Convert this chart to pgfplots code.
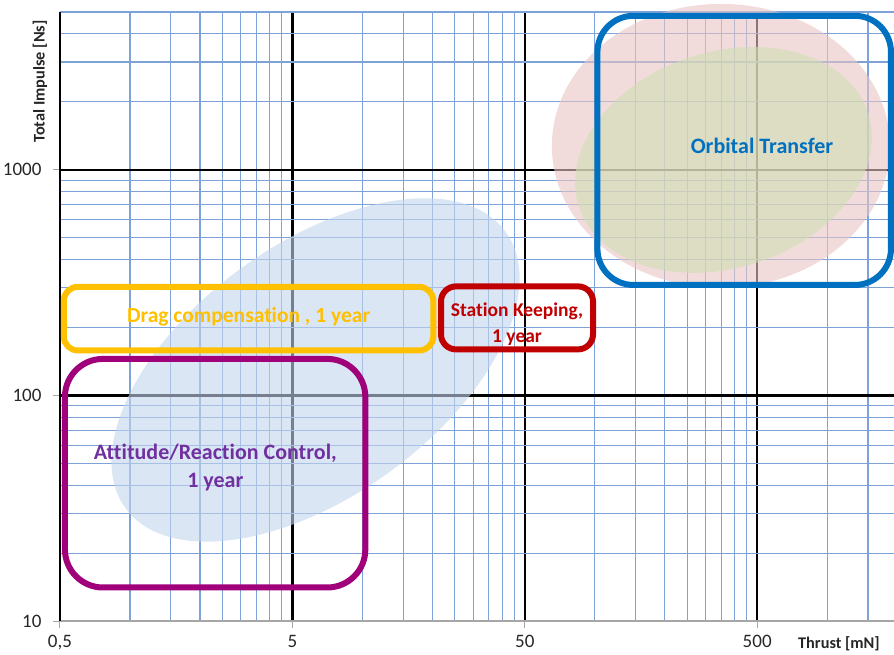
\documentclass[border=0pt]{standalone}
\usepackage{pgfplots}
\pgfplotsset{compat=1.18}
\usepackage{fontspec}
\setmainfont{Carlito}[Ligatures={NoCommon}]
\definecolor{gridblue}{RGB}{125,162,215}
\definecolor{pinkfill}{RGB}{233,197,195}
\definecolor{olivefill}{RGB}{208,221,180}
\definecolor{bluefill}{RGB}{195,213,238}
\definecolor{boxblue}{RGB}{0,112,192}
\definecolor{boxyellow}{RGB}{255,192,0}
\definecolor{boxred}{RGB}{192,0,0}
\definecolor{boxpurple}{RGB}{160,0,122}
\definecolor{textpurple}{RGB}{112,48,160}
\begin{document}
\begin{tikzpicture}
\begin{axis}[
  xmode=log, ymode=log,
  scale only axis, width=834pt, height=609.3pt,
  xmin=0.5, xmax=1940, ymin=10, ymax=5000,
  clip=false,
  axis x line*=bottom, axis y line*=left,
  x axis line style={-, draw=gray!70, line width=1.6pt},
  y axis line style={-, draw=black, line width=2.4pt},
  xtick={0.5,5,50,500}, xticklabels={{0,5},5,50,500},
  minor xtick={1,1.5,2,2.5,3,3.5,4,4.5,10,15,20,25,30,35,40,45,100,150,200,250,300,350,400,450,1000,1500},
  ytick={100,1000}, yticklabels={100,1000},
  extra y ticks={10}, extra y tick labels={10}, extra y tick style={grid=none},
  minor ytick={20,30,40,50,60,70,80,90,200,300,400,500,600,700,800,900,2000,3000,4000,5000},
  grid=both,
  major grid style={black, line width=2.4pt},
  minor grid style={gridblue, line width=1.2pt},
  tick align=outside, major tick length=7pt, minor tick length=0pt,
  tick style={gray!70, line width=1pt},
  ticklabel style={font=\fontsize{19}{21}\selectfont, text=black!85},
  xticklabel style={yshift=-6pt, inner sep=1pt},
  yticklabel style={xshift=-8pt},
]
\coordinate (SW) at (rel axis cs:0,0);
\coordinate (NE) at (rel axis cs:1,1);
% regions
\fill[pinkfill, fill opacity=0.6] (axis cs:349,1276) ellipse [x radius=169pt, y radius=142pt];
\fill[olivefill, fill opacity=0.6, rotate around={18:(axis cs:358,1106)}] (axis cs:358,1106) ellipse [x radius=152pt, y radius=108pt];
\fill[bluefill, fill opacity=0.6, rotate around={36:(axis cs:6.29,129.8)}] (axis cs:6.29,129.8) ellipse [x radius=235pt, y radius=126pt];
% boxes
\draw[boxblue, line width=6pt, rounded corners=36pt] (axis cs:102.7,309) rectangle (axis cs:1882,4808);
\draw[boxyellow, line width=6pt, rounded corners=14pt] (axis cs:0.519,158.4) rectangle (axis cs:20.2,302.9);
\draw[boxred, line width=6pt, rounded corners=15pt] (axis cs:21.8,160.1) rectangle (axis cs:98.3,304.4);
\draw[boxpurple, line width=6pt, rounded corners=38pt] (axis cs:0.525,14.12) rectangle (axis cs:10.3,145.3);
% texts
\node[font=\bfseries\fontsize{22}{26}\selectfont, text=boxblue] at (axis cs:524.5,1276) {Orbital Transfer};
\node[font=\bfseries\fontsize{21.5}{26}\selectfont, text=boxyellow] at (axis cs:3.24,222.9) {Drag compensation , 1 year};
\node[align=center, font=\bfseries\fontsize{19.5}{26}\selectfont, text=boxred] at (axis cs:46.3,207.6) {Station Keeping,\\1 year};
\node[align=center, font=\bfseries\fontsize{22}{28}\selectfont, text=textpurple] at (axis cs:2.33,47.8) {Attitude/Reaction Control,\\1 year};
% axis titles
\node[rotate=90, font=\bfseries\fontsize{16.3}{18}\selectfont, text=black!85] at ([xshift=-20pt]rel axis cs:0,0.886) {Total Impulse [Ns]};
\node[font=\bfseries\fontsize{16.3}{18}\selectfont, text=black!85] at ([yshift=-22.7pt]rel axis cs:0.934,0) {Thrust [mN]};
\end{axis}
\pgfresetboundingbox
\path ([shift={(-60pt,-33pt)}]SW) rectangle ([shift={(0pt,12pt)}]NE);
\end{tikzpicture}
\end{document}
